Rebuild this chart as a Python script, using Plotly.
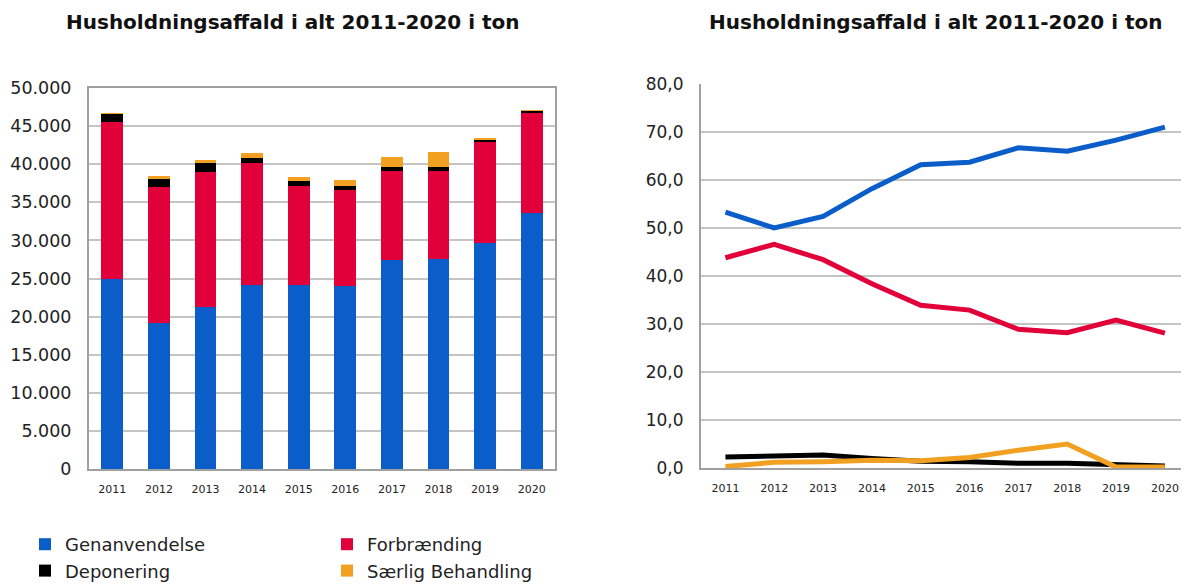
import plotly.graph_objects as go

years = ["2011", "2012", "2013", "2014", "2015", "2016", "2017", "2018", "2019", "2020"]

# Left chart: tonnes
genanvendelse_t = [25000, 19200, 21200, 24200, 24200, 24050, 27400, 27500, 29700, 33600]
forbraending_t = [20500, 17850, 17800, 15900, 13000, 12550, 11750, 11650, 13250, 13200]
deponering_t = [1100, 950, 1100, 750, 550, 500, 500, 500, 350, 200]
saerlig_t = [100, 500, 400, 650, 550, 800, 1300, 1900, 100, 100]

# Right chart: percent
genanvendelse_p = [53.3, 50.0, 52.4, 58.2, 63.2, 63.7, 66.7, 66.0, 68.3, 71.0]
forbraending_p = [43.8, 46.6, 43.4, 38.4, 33.9, 32.9, 28.9, 28.2, 30.8, 28.1]
deponering_p = [2.3, 2.5, 2.7, 2.0, 1.4, 1.3, 1.0, 1.0, 0.7, 0.4]
saerlig_p = [0.3, 1.2, 1.3, 1.6, 1.5, 2.2, 3.7, 5.0, 0.2, 0.2]

names = ["Genanvendelse", "Forbrænding", "Deponering", "Særlig Behandling"]
colors = ["#0B5EC9", "#E2003A", "#000000", "#F2A021"]

title = "Husholdningsaffald i alt 2011-2020 i ton"
FONT = "Verdana, DejaVu Sans, sans-serif"

OFF = 8  # page body margin
W, H = 1189 - 2 * OFF, 585 - OFF
def px_x(p):
    return (p - OFF) / W
def px_y(p):
    return 1 - (p - OFF) / H

fig = go.Figure()

legend_of = ["legend", "legend2", "legend", "legend2"]
for vals, name, col, lg in zip([genanvendelse_t, forbraending_t, deponering_t, saerlig_t], names, colors, legend_of):
    fig.add_trace(go.Bar(x=years, y=vals, name=name, marker=dict(color=col, line=dict(width=0)),
                         xaxis="x", yaxis="y", legend=lg))

for vals, name, col in zip([genanvendelse_p, forbraending_p, deponering_p, saerlig_p], names, colors):
    fig.add_trace(go.Scatter(x=years, y=vals, name=name, mode="lines",
                             line=dict(color=col, width=5),
                             xaxis="x2", yaxis="y2", showlegend=False))

grid = "#C4C4C4"
axis_line = "#A0A0A0"

fig.update_layout(
    width=W, height=H,
    margin=dict(l=0, r=0, t=0, b=0, autoexpand=False),
    paper_bgcolor="white", plot_bgcolor="white",
    separators=",.",
    barmode="stack", bargap=0.53,
    font=dict(family=FONT, color="#222222"),
    xaxis=dict(domain=[px_x(89), px_x(555)], anchor="y", type="category", automargin=False,
               showgrid=False, showline=True, linecolor=axis_line, linewidth=2, mirror=True,
               ticks="", tickfont=dict(size=11, color="#222222"), ticklabelstandoff=9),
    yaxis=dict(domain=[px_y(469), px_y(88)], anchor="x", range=[0, 50000], dtick=5000,
               automargin=False,
               tickformat=",d", showgrid=True, gridcolor=grid, gridwidth=2,
               showline=True, linecolor=axis_line, linewidth=2, mirror=True,
               zeroline=False, ticks="", tickfont=dict(size=17.5, color="#222222"),
               ticklabelstandoff=12),
    xaxis2=dict(domain=[px_x(701), 1.0], anchor="y2", type="category", range=[-0.5, 9.33],
                automargin=False,
                showgrid=False, showline=True, linecolor=axis_line, linewidth=2,
                ticks="", tickfont=dict(size=11, color="#222222"), ticklabelstandoff=9),
    yaxis2=dict(domain=[px_y(468), px_y(84)], anchor="x2", range=[0, 80], dtick=10,
                automargin=False,
                tickformat=".1f", showgrid=True, gridcolor=grid, gridwidth=2,
                showline=True, linecolor=axis_line, linewidth=2, zeroline=False,
                ticks="", tickfont=dict(size=17, color="#222222"), ticklabelstandoff=12),
    legend=dict(x=px_x(25), y=px_y(526), xanchor="left", yanchor="top",
                orientation="v", font=dict(size=18, color="#222222"), traceorder="normal",
                itemwidth=30, tracegroupgap=0, bgcolor="rgba(0,0,0,0)"),
    legend2=dict(x=px_x(327), y=px_y(526), xanchor="left", yanchor="top",
                 orientation="v", font=dict(size=18, color="#222222"), traceorder="normal",
                 itemwidth=30, tracegroupgap=0, bgcolor="rgba(0,0,0,0)"),
    annotations=[
        dict(text="<b>" + title + "</b>", x=px_x(293), y=px_y(22), xref="paper", yref="paper",
             xanchor="center", yanchor="middle", showarrow=False,
             font=dict(size=20, family=FONT, color="#111111")),
        dict(text="<b>" + title + "</b>", x=px_x(936), y=px_y(22), xref="paper", yref="paper",
             xanchor="center", yanchor="middle", showarrow=False,
             font=dict(size=20, family=FONT, color="#111111")),
    ],
)

fig.write_html("out.html")
